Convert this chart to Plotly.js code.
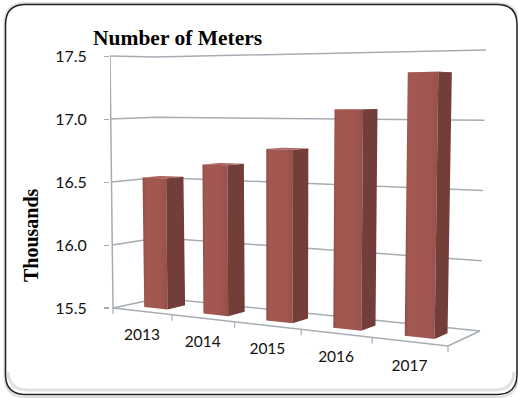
<!DOCTYPE html>
<html>
<head>
<meta charset="utf-8">
<script src="https://cdn.plot.ly/plotly-3.0.1.min.js"></script>
<style>html,body{margin:0;padding:0;background:#fff}#chart{width:518px;height:398px}</style>
</head>
<body>
<div id="chart"></div>
<script>
// Chart data
const years = ['2013', '2014', '2015', '2016', '2017'];
const meters = [16.53, 16.65, 16.78, 17.08, 17.34];
const axisTicks = [15.5, 16.0, 16.5, 17.0, 17.5];
const chartTitle = 'Number of Meters';
const axisTitle = 'Thousands';

// Size of the figure and where the value axis sits on it
const W = 518, H = 398, LEFT = 110;
const Y_MIN = 15.5, Y_MAX = 17.5, Y_TOP_PX = 56.5, Y_BOTTOM_PX = 308;
const PX_PER_UNIT = (Y_BOTTOM_PX - Y_TOP_PX) / (Y_MAX - Y_MIN);
const toValue = py => Y_MAX - (py - Y_TOP_PX) / PX_PER_UNIT;

// Corners of the tilted 3D box: front/back, left/right, floor/ceiling
const box = {
  flb: [113, 308], flt: [110, 56], blb: [160, 298], blt: [155, 57],
  frb: [448, 346], frt: [452, 47], brb: [480, 331], brt: [486, 50]
};
const FORESHORTEN = 1.17;
const mix = (a, b, k) => a + (b - a) * k;

// Projects (slot position 0-1, value, depth 0-1) onto the x axis and the value axis
function project(u, value, d) {
  const s = u / (u + FORESHORTEN * (1 - u));
  const t = (value - Y_MIN) / (Y_MAX - Y_MIN);
  const at = i => {
    const bottom = mix(mix(box.flb[i], box.frb[i], s), mix(box.blb[i], box.brb[i], s), d);
    const top = mix(mix(box.flt[i], box.frt[i], s), mix(box.blt[i], box.brt[i], s), d);
    return mix(bottom, top, t);
  };
  return [at(0), toValue(at(1))];
}

function polyline(points, color, width) {
  return {
    type: 'scatter', mode: 'lines', cliponaxis: false, hoverinfo: 'skip', showlegend: false,
    x: points.map(p => p[0]), y: points.map(p => p[1]),
    line: {color: color, width: width, simplify: false}
  };
}

function face(points, fill) {
  const closed = points.concat([points[0]]);
  return Object.assign({
    type: 'scatter', mode: 'lines', cliponaxis: false, hoverinfo: 'skip', showlegend: false,
    x: closed.map(p => p[0]), y: closed.map(p => p[1]),
    fill: 'toself', line: {width: 0}
  }, fill);
}

const traces = [];
const GRID = '#a6acb3';

// Side wall and back wall gridlines
axisTicks.forEach(v => {
  traces.push(polyline([project(0, v, 0), project(0, v, 1), project(1, v, 1)], GRID, 1.5));
});

// Axis edges on the floor, the left upright and the category ticks
traces.push(polyline([project(0, Y_MIN, 0), project(0, Y_MAX, 0)], GRID, 1.5));
traces.push(polyline([project(0, Y_MIN, 0), project(1, Y_MIN, 0), project(1, Y_MIN, 1)], GRID, 1.5));
for (let i = 0; i <= years.length; i++) {
  const p = project(i / years.length, Y_MIN, 0);
  traces.push(polyline([p, [p[0], p[1] - 6 / PX_PER_UNIT]], GRID, 1.2));
}

// Columns
const BAR_HALF = 0.04, D_FRONT = 0.3, D_BACK = 0.69;
meters.forEach((v, i) => {
  const c = (i + 0.5) / years.length, l = c - BAR_HALF, r = c + BAR_HALF;
  traces.push(face([
    project(l, Y_MIN, D_FRONT), project(r, Y_MIN, D_FRONT),
    project(r, v, D_FRONT), project(l, v, D_FRONT)
  ], {
    fillcolor: '#a0564f',
    fillgradient: {type: 'horizontal', colorscale: [[0, '#8f4c46'], [0.12, '#a3584f'], [0.75, '#a05650'], [1, '#94504b']]}
  }));
  traces.push(face([
    project(r, Y_MIN, D_FRONT), project(r, Y_MIN, D_BACK),
    project(r, v, D_BACK), project(r, v, D_FRONT)
  ], {fillcolor: '#733d39'}));
  traces.push(face([
    project(l, v, D_FRONT), project(r, v, D_FRONT),
    project(r, v, D_BACK), project(l, v, D_BACK)
  ], {fillcolor: '#a9625c'}));
});

// Category labels sit below the front floor edge and follow its slope
const labelSpots = years.map((y, i) => project((i + 0.5) / years.length, Y_MIN, 0));
traces.push({
  type: 'scatter', mode: 'text', cliponaxis: false, hoverinfo: 'skip', showlegend: false,
  x: labelSpots.map(p => p[0]),
  y: labelSpots.map(p => p[1] - 25 / PX_PER_UNIT),
  text: years, textposition: 'middle center',
  textfont: {family: 'Lato, "Open Sans", sans-serif', size: 15.5, color: '#111'}
});

// Rounded outer frame, drawn in figure pixels
const fx = px => (px - LEFT) / (W - LEFT);
const fy = py => (H - py) / H;
const pt = (x, y) => fx(x).toFixed(4) + ',' + fy(y).toFixed(4);
function roundedFrame(x0, y0, x1, y1, r) {
  return 'M' + pt(x0 + r, y0) + ' L' + pt(x1 - r, y0) + ' Q' + pt(x1, y0) + ' ' + pt(x1, y0 + r) +
    ' L' + pt(x1, y1 - r) + ' Q' + pt(x1, y1) + ' ' + pt(x1 - r, y1) +
    ' L' + pt(x0 + r, y1) + ' Q' + pt(x0, y1) + ' ' + pt(x0, y1 - r) +
    ' L' + pt(x0, y0 + r) + ' Q' + pt(x0, y0) + ' ' + pt(x0 + r, y0) + ' Z';
}
const frameShape = (path, color, width) => ({
  type: 'path', xref: 'paper', yref: 'paper', layer: 'below', path: path, line: {color: color, width: width}
});
// Soft inner shadow along the lower edge only
const lowerEdge = 'M' + pt(8, 372) + ' Q' + pt(9, 390) + ' ' + pt(28, 390) +
  ' L' + pt(495, 390) + ' Q' + pt(513, 390) + ' ' + pt(514, 372);

const layout = {
  width: W, height: H,
  margin: {l: LEFT, r: 0, t: 0, b: 0},
  paper_bgcolor: '#fff', plot_bgcolor: 'rgba(0,0,0,0)',
  showlegend: false, hovermode: false,
  title: {
    text: '<b>' + chartTitle + '</b>',
    xref: 'container', yref: 'container', x: 93 / W, xanchor: 'left', y: 1 - 37 / H, yanchor: 'middle',
    font: {family: '"Liberation Serif", serif', size: 21.5, color: '#000'}
  },
  xaxis: {visible: false, range: [LEFT, W], fixedrange: true},
  yaxis: {
    range: [toValue(H), toValue(0)], fixedrange: true,
    tickmode: 'array', tickvals: axisTicks, ticktext: axisTicks.map(v => v.toFixed(1)),
    ticks: 'outside', ticklen: 5, tickcolor: GRID, tickwidth: 1.2, ticklabelstandoff: 14,
    showgrid: false, zeroline: false, showline: false,
    tickfont: {family: 'Lato, "Open Sans", sans-serif', size: 16, color: '#111'}
  },
  annotations: [{
    text: '<b>' + axisTitle + '</b>', textangle: -90, showarrow: false,
    xref: 'paper', yref: 'paper', x: fx(31), y: fy(235), xanchor: 'center', yanchor: 'middle',
    font: {family: '"Liberation Serif", serif', size: 20, color: '#000'}
  }],
  shapes: [
    frameShape(roundedFrame(4.5, 3, 518, 397, 21), '#dcdee0', 2),
    frameShape(lowerEdge, '#e0e1e3', 3),
    frameShape(roundedFrame(5.5, 4.5, 517, 394.5, 20), '#222', 1.5)
  ]
};

Plotly.newPlot('chart', traces, layout, {displayModeBar: false, staticPlot: true});
</script>
</body>
</html>
